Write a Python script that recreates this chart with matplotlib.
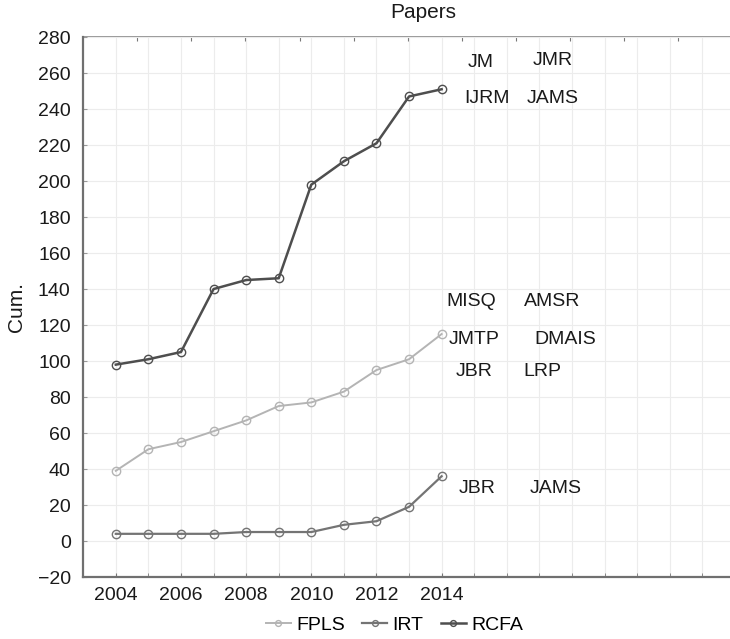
import numpy as np
import matplotlib
matplotlib.use("Agg")
from matplotlib import pyplot

pyplot.rcParams['font.family'] = ['Liberation Sans', 'DejaVu Sans']

years = [2004, 2005, 2006, 2007, 2008, 2009, 2010, 2011, 2012, 2013, 2014]
fpls = [39, 51, 55, 61, 67, 75, 77, 83, 95, 101, 115]
irt = [4, 4, 4, 4, 5, 5, 5, 9, 11, 19, 36]
rcfa = [98, 101, 105, 140, 145, 146, 198, 211, 221, 247, 251]

# journal labels next to the series ends (x, y, text)
label_x = [2015.2, 2017.4, 2015.4, 2017.4, 2014.9, 2017.4, 2015.0, 2017.8, 2015.0, 2017.1, 2015.1, 2017.5]
label_y = [266, 267, 246, 246, 133, 133, 112, 112, 94, 94, 29, 29]
label_text = ['JM', 'JMR', 'IJRM', 'JAMS', 'MISQ', 'AMSR', 'JMTP', 'DMAIS', 'JBR', 'LRP', 'JBR', 'JAMS']

figure = pyplot.figure(figsize=(7.3, 6.39), dpi=100)
axis = figure.add_axes([0.114, 0.097, 0.886, 0.845])

axis.plot(years, fpls, color='#b4b4b4', lw=1.4, marker='o', ms=6, mfc='none', mew=1.0, label='FPLS')
axis.plot(years, irt, color='#747474', lw=1.6, marker='o', ms=6, mfc='none', mew=1.0, label='IRT')
axis.plot(years, rcfa, color='#4e4e4e', lw=1.8, marker='o', ms=6, mfc='none', mew=1.0, label='RCFA')

for x, y, t in zip(label_x, label_y, label_text):
    axis.text(x, y, t, ha='center', va='center', fontsize=14, color='#1a1a1a')

axis.set_xlim(2003, 2022.85)
axis.set_ylim(-20, 280)
axis.set_xticks(np.arange(2004, 2015, 2))
axis.set_xticks(np.arange(2004, 2023, 1), minor=True)
axis.set_yticks(np.arange(-20, 281, 20))
axis.set_yticklabels([str(v).replace('-', '\u2212') for v in range(-20, 281, 20)])
axis.grid(True, which='both', axis='x', color='#ececec', lw=0.8)
axis.grid(True, which='major', axis='y', color='#ececec', lw=0.8)
axis.tick_params(axis='both', labelsize=14, colors='#1a1a1a')
axis.tick_params(axis='x', which='both', direction='in', length=3, color='#777777', pad=7)
axis.tick_params(axis='y', direction='in', length=3, color='#999999', pad=9)

# small marks along the top edge
top = axis.secondary_xaxis('top')
top.set_xticks(np.arange(2004.66, 2023, 1.66))
top.tick_params(direction='in', length=3, color='#777777', labeltop=False)
top.spines['top'].set_color('#8a8a8a')
top.spines['top'].set_linewidth(1.2)

for side in ['left', 'bottom']:
    axis.spines[side].set_color('#707070')
    axis.spines[side].set_linewidth(1.6)
axis.spines['top'].set_visible(False)
axis.spines['right'].set_visible(False)

figure.text(423 / 730, 1 - 13 / 639, 'Papers', ha='center', va='center', fontsize=15, color='#1a1a1a')
axis.set_ylabel('Cum.', fontsize=15, labelpad=8, color='#1a1a1a')

axis.legend(loc='center', bbox_to_anchor=(0.481, -0.089), ncol=3, frameon=False,
            fontsize=14, handlelength=1.3, handletextpad=0.25, columnspacing=0.9, markerscale=0.7)

pyplot.savefig("out.png", dpi=100)
